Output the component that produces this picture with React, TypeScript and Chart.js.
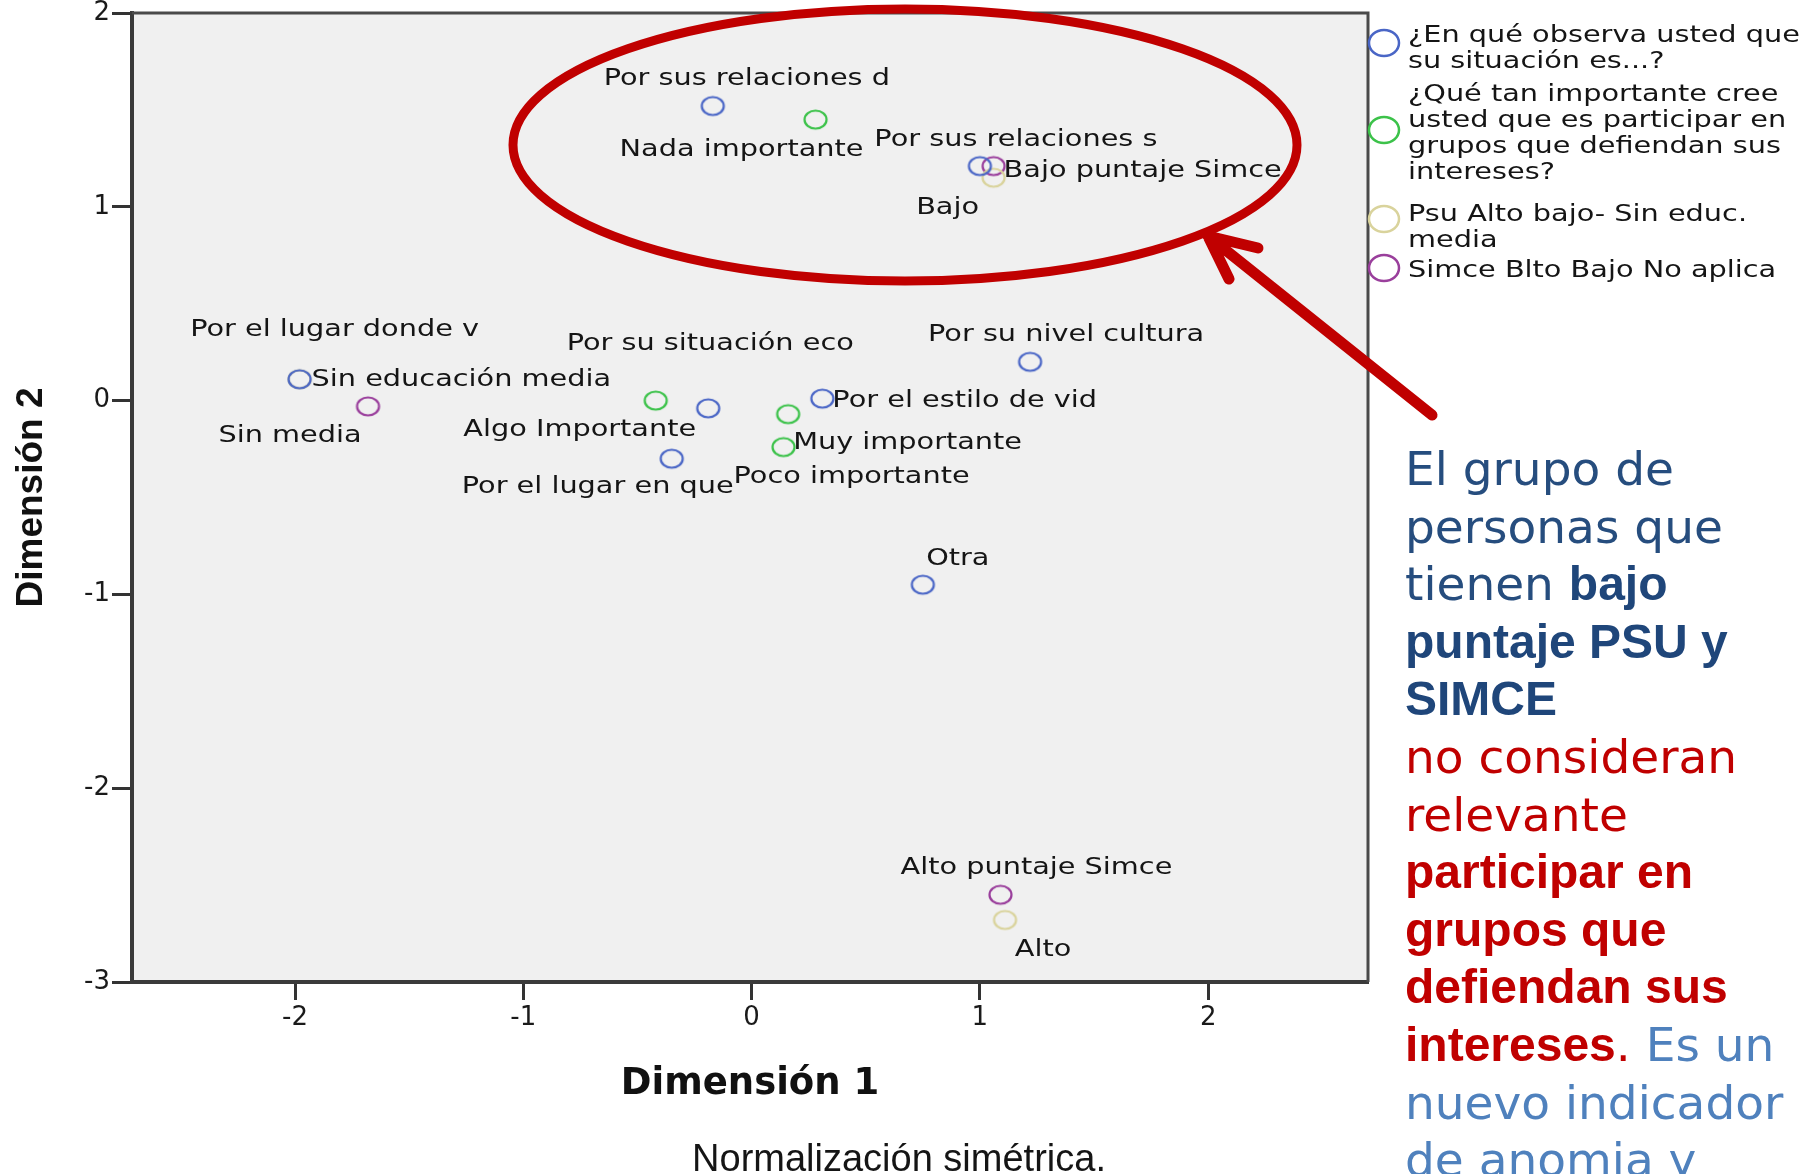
import React, { useEffect, useRef } from "react";
import { Chart, registerables } from "chart.js";

Chart.register(...registerables);

// ---- Series 1: ¿En qué observa usted que su situación es...?
const situacionNames = [
  "Por sus relaciones d",
  "Por sus relaciones s",
  "Por el lugar donde v",
  "Por su situación eco",
  "Por el lugar en que",
  "Por el estilo de vid",
  "Por su nivel cultura",
  "Otra",
];
const situacionX = [-0.17, 1.0, -1.98, -0.19, -0.35, 0.31, 1.22, 0.75];
const situacionY = [1.52, 1.21, 0.11, -0.04, -0.3, 0.01, 0.2, -0.95];

// ---- Series 2: ¿Qué tan importante cree usted que es participar en grupos...?
const importanciaNames = ["Nada importante", "Algo Importante", "Muy importante", "Poco importante"];
const importanciaX = [0.28, -0.42, 0.16, 0.14];
const importanciaY = [1.45, 0.0, -0.07, -0.24];

// ---- Series 3: Psu Alto bajo- Sin educ. media
const psuNames = ["Bajo", "Alto", "Sin educación media"];
const psuX = [1.06, 1.11, -1.98];
const psuY = [1.15, -2.68, 0.11];

// ---- Series 4: Simce Blto Bajo No aplica
const simceNames = ["Bajo puntaje Simce", "Alto puntaje Simce", "Sin media"];
const simceX = [1.06, 1.09, -1.68];
const simceY = [1.21, -2.55, -0.03];

const seriesTitles = [
  "¿En qué observa usted que su situación es...?",
  "¿Qué tan importante cree usted que es participar en grupos que defiendan sus intereses?",
  "Psu Alto bajo- Sin educ. media",
  "Simce Blto Bajo No aplica",
];
const legendLines = [
  ["¿En qué observa usted que", "su situación es...?"],
  ["¿Qué tan importante cree", "usted que es participar en", "grupos que defiendan sus", "intereses?"],
  ["Psu Alto bajo- Sin educ.", "media"],
  ["Simce Blto Bajo No aplica"],
];
const seriesColors = ["#4a66c6", "#3cc24a", "#d9d39c", "#9a3f9c"];

const xTicksMin = -2.714;
const xTicksMax = 2.7;
const yTicksMin = -3;
const yTicksMax = 2;

// label placement relative to the point (pixels): dx, dy, alignment
const labelPlacement: Record<string, [number, number, CanvasTextAlign]> = {
  "Por sus relaciones d": [34, -27, "center"],
  "Por sus relaciones s": [36, -26, "center"],
  "Por el lugar donde v": [35, -49, "center"],
  "Por su situación eco": [2, -64, "center"],
  "Por el lugar en que": [-74, 28, "center"],
  "Por el estilo de vid": [10, 2, "left"],
  "Por su nivel cultura": [36, -27, "center"],
  Otra: [35, -26, "center"],
  "Nada importante": [-74, 30, "center"],
  "Algo Importante": [-76, 29, "center"],
  "Muy importante": [5, 29, "left"],
  "Poco importante": [68, 30, "center"],
  Bajo: [-46, 30, "center"],
  Alto: [38, 30, "center"],
  "Sin educación media": [12, 1, "left"],
  "Bajo puntaje Simce": [10, 5, "left"],
  "Alto puntaje Simce": [36, -27, "center"],
  "Sin media": [-78, 30, "center"],
};

const TEXT_SX = 1.25;
const LABEL_FONT = '23px "DejaVu Sans", sans-serif';

function ring(color: string, rx: number, ry: number, lw: number) {
  const c = document.createElement("canvas");
  c.width = Math.ceil(2 * rx + lw + 2);
  c.height = Math.ceil(2 * ry + lw + 2);
  const g = c.getContext("2d")!;
  g.strokeStyle = color;
  g.lineWidth = lw;
  g.beginPath();
  g.ellipse(c.width / 2, c.height / 2, rx, ry, 0, 0, Math.PI * 2);
  g.stroke();
  return c;
}

function stretchedText(ctx: CanvasRenderingContext2D, text: string, x: number, y: number, sx: number, align: CanvasTextAlign) {
  ctx.save();
  ctx.translate(x, y);
  ctx.scale(sx, 1);
  ctx.textAlign = align;
  ctx.fillText(text, 0, 0);
  ctx.restore();
}

const decorPlugin = {
  id: "decor",
  beforeDraw(chart: any) {
    const { ctx, chartArea: a } = chart;
    ctx.save();
    ctx.fillStyle = "#f0f0f0";
    ctx.fillRect(a.left, a.top, a.right - a.left, a.bottom - a.top);
    ctx.restore();
  },
  afterDatasetsDraw(chart: any) {
    const { ctx } = chart;
    ctx.save();
    ctx.font = LABEL_FONT;
    ctx.fillStyle = "#151515";
    ctx.textBaseline = "middle";
    chart.data.datasets.forEach((ds: any, di: number) => {
      const meta = chart.getDatasetMeta(di);
      ds.names.forEach((name: string, j: number) => {
        const el = meta.data[j];
        const p = labelPlacement[name] || [0, -25, "center"];
        stretchedText(ctx, name, el.x + p[0], el.y + p[1], TEXT_SX, p[2]);
      });
    });
    ctx.restore();
  },
  afterDraw(chart: any) {
    const { ctx, chartArea: a } = chart;
    ctx.save();
    // top and right frame lines
    ctx.strokeStyle = "#4a4a4a";
    ctx.lineWidth = 3;
    ctx.beginPath();
    ctx.moveTo(a.left, a.top);
    ctx.lineTo(a.right, a.top);
    ctx.lineTo(a.right, a.bottom);
    ctx.stroke();

    // legend
    const circleY = [43, 130, 219, 268];
    const firstBaseline = [42, 101, 221, 277];
    ctx.font = LABEL_FONT;
    ctx.fillStyle = "#151515";
    ctx.textBaseline = "alphabetic";
    legendLines.forEach((lines, i) => {
      ctx.strokeStyle = seriesColors[i];
      ctx.lineWidth = 2.5;
      ctx.beginPath();
      ctx.ellipse(a.right + 16, circleY[i], 15, 13, 0, 0, Math.PI * 2);
      ctx.stroke();
      lines.forEach((t, k) => {
        stretchedText(ctx, t, a.right + 40, firstBaseline[i] + k * 26, TEXT_SX, "left");
      });
    });

    // footnote
    ctx.font = '38px "Liberation Sans", Arial, sans-serif';
    ctx.textAlign = "center";
    ctx.fillText("Normalización simétrica.", 899, 1171);

    // highlight ellipse
    ctx.strokeStyle = "#c00000";
    ctx.lineWidth = 9;
    ctx.beginPath();
    ctx.ellipse(905, 145, 392, 136, 0, 0, Math.PI * 2);
    ctx.stroke();

    // arrow
    ctx.lineWidth = 11;
    ctx.lineCap = "round";
    ctx.lineJoin = "round";
    ctx.beginPath();
    ctx.moveTo(1432, 415);
    ctx.lineTo(1208, 236);
    ctx.moveTo(1258, 248);
    ctx.lineTo(1208, 236);
    ctx.lineTo(1229, 279);
    ctx.stroke();
    ctx.restore();
  },
};

const DARK = "#264d7e";
const NAVY = "#1f467a";
const RED = "#c00000";
const LIGHT = "#4f81bd";
const REG = '"DejaVu Sans", sans-serif';
const BOLD = '"Liberation Sans", Arial, sans-serif';

type Seg = { t: string; c: string; b?: boolean };
const noteLines: Seg[][] = [
  [{ t: "El grupo de", c: DARK }],
  [{ t: "personas que", c: DARK }],
  [{ t: "tienen ", c: DARK }, { t: "bajo", c: NAVY, b: true }],
  [{ t: "puntaje PSU y", c: NAVY, b: true }],
  [{ t: "SIMCE", c: NAVY, b: true }],
  [{ t: "no consideran", c: RED }],
  [{ t: "relevante", c: RED }],
  [{ t: "participar en", c: RED, b: true }],
  [{ t: "grupos que", c: RED, b: true }],
  [{ t: "defiendan sus", c: RED, b: true }],
  [{ t: "intereses", c: RED, b: true }, { t: ". ", c: RED }, { t: "Es un", c: LIGHT }],
  [{ t: "nuevo indicador", c: LIGHT }],
  [{ t: "de anomia y", c: LIGHT }],
];

export default function App() {
  const ref = useRef<HTMLCanvasElement | null>(null);

  useEffect(() => {
    if (!ref.current) return;
    const mk = (xs: number[], ys: number[]) => xs.map((x, i) => ({ x, y: ys[i] }));
    const sets = [
      { names: situacionNames, data: mk(situacionX, situacionY) },
      { names: importanciaNames, data: mk(importanciaX, importanciaY) },
      { names: psuNames, data: mk(psuX, psuY) },
      { names: simceNames, data: mk(simceX, simceY) },
    ];
    const chart = new Chart(ref.current, {
      type: "scatter",
      data: {
        datasets: sets.map((s, i) => ({
          label: seriesTitles[i],
          names: s.names,
          data: s.data,
          pointStyle: ring(seriesColors[i], 11, 9, 2.2),
          pointRadius: 10,
          borderColor: seriesColors[i],
          backgroundColor: "transparent",
        })) as any,
      },
      options: {
        animation: false,
        responsive: false,
        layout: { padding: { top: 13, right: 448, bottom: 0, left: 0 }, autoPadding: false } as any,
        plugins: { legend: { display: false }, tooltip: { enabled: false } },
        scales: {
          x: {
            type: "linear",
            min: xTicksMin,
            max: xTicksMax,
            ticks: {
              stepSize: 1,
              includeBounds: false,
              padding: 3,
              color: "#1a1a1a",
              font: { family: "DejaVu Sans", size: 26 },
              callback: (v: any) => String(v),
            } as any,
            grid: { display: true, drawOnChartArea: false, drawTicks: true, tickLength: 18, tickWidth: 3, tickColor: "#333" },
            border: { display: true, color: "#3a3a3a", width: 4 },
            title: {
              display: true,
              text: "Dimensión 1",
              color: "#111",
              font: { family: "DejaVu Sans", weight: "bold", size: 37 },
              padding: { top: 0, bottom: 67 },
            },
            afterFit: (s: any) => {
              s.height = 192;
              s.paddingLeft = 0;
              s.paddingRight = 0;
            },
          },
          y: {
            type: "linear",
            min: yTicksMin,
            max: yTicksMax,
            ticks: {
              stepSize: 1,
              padding: 2,
              color: "#1a1a1a",
              font: { family: "DejaVu Sans", size: 26 },
              callback: (v: any) => String(v),
            },
            grid: { display: true, drawOnChartArea: false, drawTicks: true, tickLength: 20, tickWidth: 3, tickColor: "#333" },
            border: { display: true, color: "#3a3a3a", width: 4 },
            title: {
              display: true,
              text: "Dimensión 2",
              color: "#111",
              font: { family: "Liberation Sans", weight: "bold", size: 37 },
              padding: { top: 10, bottom: 0 },
            },
            afterFit: (s: any) => {
              s.width = 132;
              s.paddingTop = 0;
              s.paddingBottom = 0;
            },
          },
        },
      },
      plugins: [decorPlugin as any],
    });
    return () => chart.destroy();
  }, []);

  return (
    <div style={{ position: "fixed", left: 0, top: 0, width: 1816, height: 1174, overflow: "hidden", background: "#fff" }}>
      <canvas ref={ref} width={1816} height={1174} style={{ display: "block" }} />
      <div
        style={{
          position: "absolute",
          left: 1405,
          top: 440,
          fontSize: 47,
          lineHeight: "57.6px",
          whiteSpace: "pre",
          fontFamily: REG,
        }}
      >
        {noteLines.map((line, i) => (
          <div key={i}>
            {line.map((s, k) => (
              <span
                key={k}
                style={{ color: s.c, fontWeight: s.b ? 700 : 400, fontFamily: s.b ? BOLD : REG, fontSize: s.b ? 48 : 47 }}
              >
                {s.t}
              </span>
            ))}
          </div>
        ))}
      </div>
    </div>
  );
}
